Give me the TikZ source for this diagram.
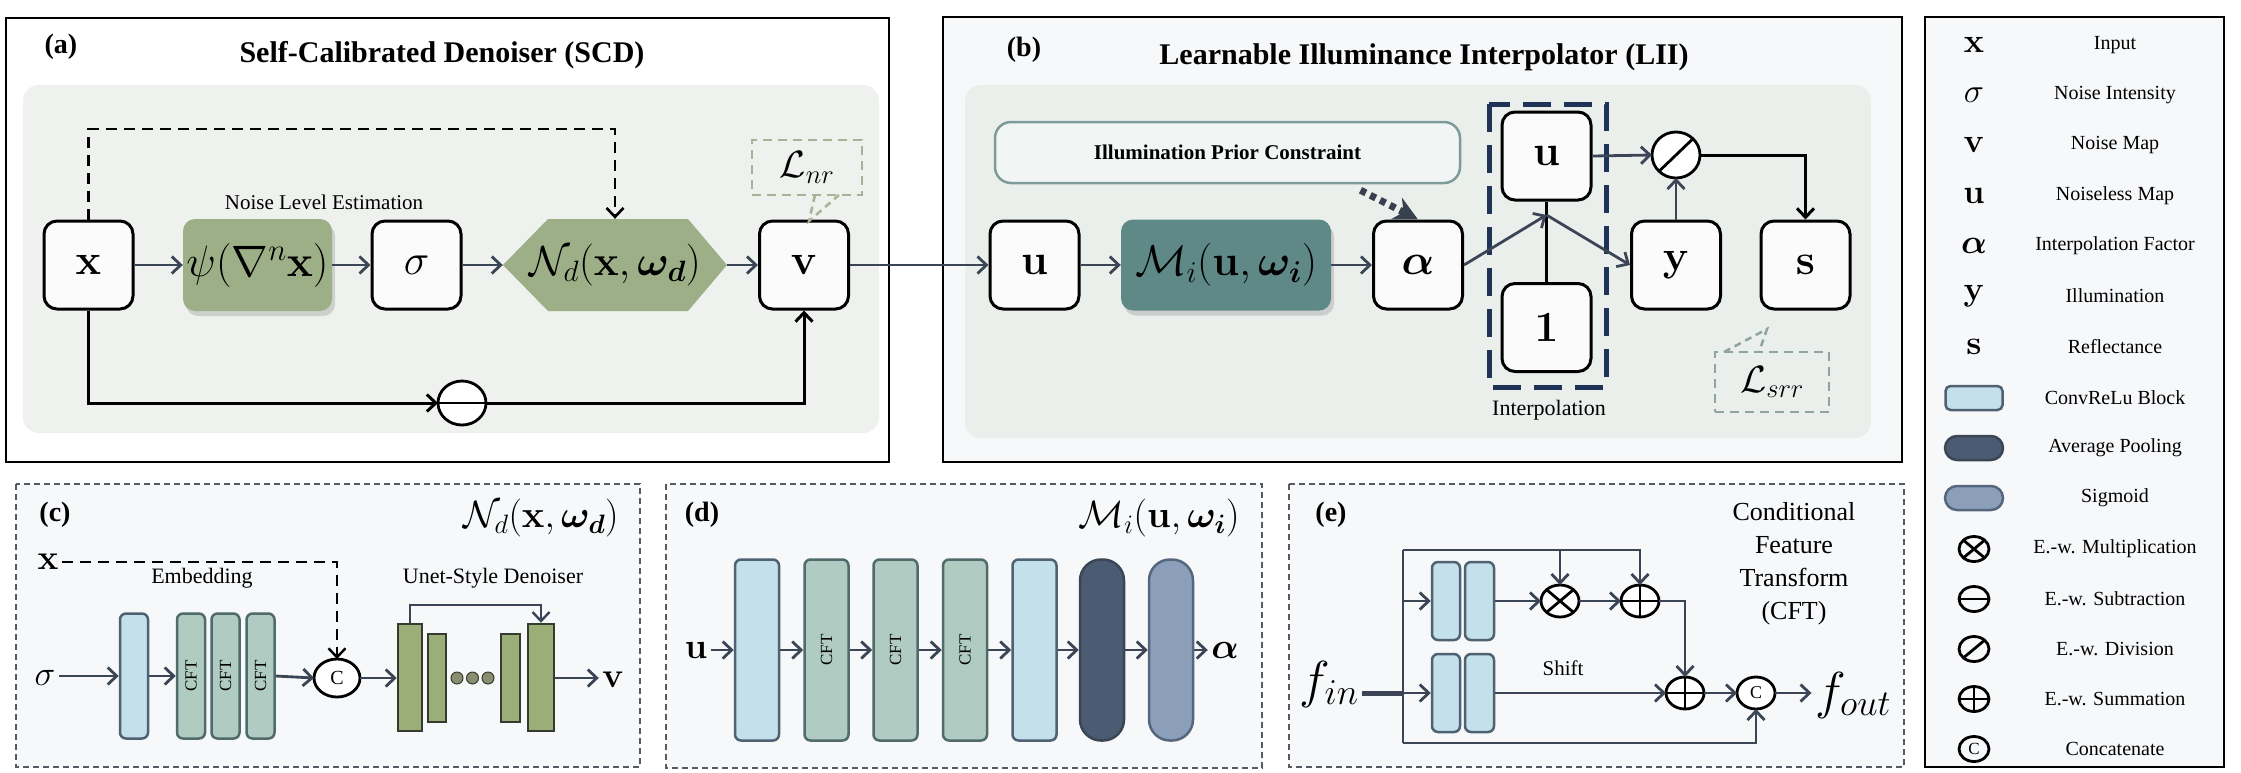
\RequirePackage{fix-cm}
\documentclass[tikz,border=0pt]{standalone}
\usepackage{bm}
\usepackage[no-math]{fontspec}
\setmainfont{Liberation Serif}
\usetikzlibrary{arrows.meta,shadows,calc,shapes.geometric}
\newcommand{\myfs}[2]{\fontsize{#1}{#2}\selectfont}
\definecolor{boxfill}{HTML}{FAFBFA}
\definecolor{arrowc}{HTML}{3B4555}
\definecolor{panelA}{HTML}{EEF1EE}
\definecolor{panelB}{HTML}{EBEFEC}
\definecolor{bfill}{HTML}{F6F8F9}
\definecolor{olivec}{HTML}{9DAF86}
\definecolor{mteal}{HTML}{5F8987}
\definecolor{lnrc}{HTML}{A9B296}
\definecolor{lsrrc}{HTML}{8FA4A2}
\definecolor{ipcc}{HTML}{7D9C99}
\definecolor{ipcfill}{HTML}{F1F5F3}
\definecolor{interpc}{HTML}{1E3356}
\definecolor{dotc}{HTML}{36404F}
\definecolor{botfill}{HTML}{F6F8FA}
\definecolor{dashc}{HTML}{555B63}
\definecolor{lblue}{HTML}{C4E0EA}
\definecolor{lbbord}{HTML}{4F6272}
\definecolor{cftc}{HTML}{AFCBC2}
\definecolor{cftbord}{HTML}{506C6A}
\definecolor{uolive}{HTML}{9BAE78}
\definecolor{ubord}{HTML}{363B30}
\definecolor{dotol}{HTML}{8A8E70}
\definecolor{avgc}{HTML}{4A5B72}
\definecolor{avgbord}{HTML}{3A4656}
\definecolor{sigc}{HTML}{8B9FBA}
\definecolor{sigbord}{HTML}{56677D}
\definecolor{legfill}{HTML}{F7F8FA}
\begin{document}
\begin{tikzpicture}[x=1pt,y=-1pt,
  sqbox/.style={draw=black,line width=3pt,rounded corners=13pt,fill=boxfill,minimum width=89pt,minimum height=88pt,inner sep=0pt,font=\myfs{43}{50}},
  arr/.style={draw=arrowc,line width=2.8pt,-{Straight Barb[length=9pt,width=17pt]}},
  barr/.style={draw=black,line width=3pt,-{Straight Barb[length=9pt,width=17pt]}},
  dline/.style={draw=black,line width=2.6pt,dash pattern=on 11pt off 7pt,-{Straight Barb[length=9pt,width=17pt]}},
  opc/.style={ellipse,draw=black,line width=2.8pt,fill=white,inner sep=0pt,outer sep=0pt},
  opl/.style={draw=black,line width=2.8pt},
  shd/.style={drop shadow={shadow xshift=3pt,shadow yshift=-5pt,opacity=0.2,fill=black!70}},
  lbl/.style={font=\myfs{28}{32}\bfseries},
  cblk/.style={draw=lbbord,fill=lblue,line width=2.5pt,rounded corners=6pt,inner sep=0pt},
  cftblk/.style={draw=cftbord,fill=cftc,line width=2.5pt,rounded corners=6pt,inner sep=0pt},
  ublk/.style={draw=ubord,fill=uolive,line width=2.5pt,inner sep=0pt},
  avgblk/.style={draw=avgbord,fill=avgc,line width=2.5pt,inner sep=0pt},
  sigblk/.style={draw=sigbord,fill=sigc,line width=2.5pt,inner sep=0pt},
  bdash/.style={draw=dashc,line width=2pt,dash pattern=on 6pt off 4pt,fill=botfill},
  legt/.style={font=\myfs{20}{23}},
  legs/.style={font=\myfs{34}{38}},
  cfttxt/.style={rotate=90,font=\myfs{17}{20}}
]
\useasboundingbox (0,0) rectangle (2241,772);
\fill[white] (0,0) rectangle (2241,772);

%% ---------------- Panel (a)
\draw[line width=2.5pt,fill=white] (6,18) rectangle (889,462);
\fill[panelA,rounded corners=16pt] (23,85) rectangle (879,433);
\node[lbl] (la) at (61,47) {(a)};
\node[font=\myfs{30}{36}\bfseries] (ta) at (442,55) {Self-Calibrated Denoiser (SCD)};

\node[sqbox] (xa) at (88.5,265) {$\mathbf{x}$};
\node[fill=olivec,rounded corners=12pt,minimum width=149pt,minimum height=92pt,inner sep=0pt,shd,font=\myfs{44}{50}] (psi) at (257.5,265) {$\psi(\nabla^n\mathbf{x})$};
\node[sqbox] (sig) at (416.5,265) {$\sigma$};
\fill[olivec] (503,265) -- (548,219) -- (688,219) -- (727,265) -- (688,311) -- (548,311) -- cycle;
\node[minimum width=224pt,minimum height=92pt,inner sep=0pt,font=\myfs{42}{50}] (nd) at (615,265) {$\mathcal{N}_d(\mathbf{x},\bm{\omega_d})$};
\node[sqbox] (va) at (804,265) {$\mathbf{v}$};
\node[font=\myfs{21}{25}] (nle) at (324,202) {Noise Level Estimation};

\draw[arr] (xa.east) -- (psi.west);
\draw[arr] (psi.east) -- (sig.west);
\draw[arr] (sig.east) -- (nd.west);
\draw[arr] (nd.east) -- (va.west);

\coordinate (atop) at (0,129);
\draw[dline] (xa.north) -- (xa.north |- atop) -| (nd.north);

\node[opc,minimum width=48pt,minimum height=44pt] (sub) at (462,403) {};
\draw[barr] (xa.south) |- (sub.west);
\draw[barr] (sub.east) -| (va.south);
\draw[opl] (sub.west) -- (sub.east);

\node[draw=lnrc,line width=2.5pt,dash pattern=on 9pt off 6pt,minimum width=110pt,minimum height=55pt,inner sep=0pt,font=\myfs{38}{42}] (lnr) at (807,167.5) {$\mathcal{L}_{nr}$};
\draw[lnrc,line width=2.5pt,dash pattern=on 7pt off 5pt] (815,195) -- (809,221) -- (839,195);

%% ---------------- Panel (b)
\draw[line width=2.5pt,fill=bfill] (943,17) rectangle (1902,462);
\fill[panelB,rounded corners=16pt] (965,85) rectangle (1871,438);
\node[lbl] (lb) at (1024,50) {(b)};
\node[font=\myfs{30}{36}\bfseries] (tb) at (1424,57) {Learnable Illuminance Interpolator (LII)};

\node[draw=ipcc,line width=2.5pt,fill=ipcfill,rounded corners=16pt,minimum width=465pt,minimum height=61pt,font=\myfs{21}{25}\bfseries] (ipc) at (1227.5,152.5) {Illumination Prior Constraint};

\node[sqbox] (ub) at (1034.5,265) {$\mathbf{u}$};
\node[fill=mteal,rounded corners=12pt,minimum width=210pt,minimum height=91pt,inner sep=0pt,shd,font=\myfs{43}{50}] (mi) at (1226,265) {$\mathcal{M}_i(\mathbf{u},\bm{\omega_i})$};
\node[sqbox] (al) at (1418,265) {$\bm{\alpha}$};
\node[sqbox] (ut) at (1546.5,156) {$\mathbf{u}$};
\node[sqbox] (one) at (1546.5,327.5) {$\mathbf{1}$};
\node[sqbox] (yb) at (1676,265) {$\mathbf{y}$};
\node[sqbox] (sb) at (1805.5,265) {$\mathbf{s}$};
\node[opc,minimum width=48pt,minimum height=46pt] (dv) at (1676,155) {};
\draw[opl] (dv.south west) -- (dv.north east);

\draw[interpc,line width=5pt,dash pattern=on 28pt off 13pt] (1489,104) rectangle (1606,387);
\node[font=\myfs{22}{26}] (interp) at (1549,410) {Interpolation};

\draw[arr] (va.east) -- (ub.west);
\draw[arr] (ub.east) -- (mi.west);
\draw[arr] (mi.east) -- (al.west);
\draw[line width=2.8pt] (ut.south) -- (one.north);
\coordinate (jn) at (1546.5,215);
\draw[arr] (al.east) -- (jn);
\draw[arr] (jn) -- (yb.west);
\draw[arr] (ut.east) -- (dv.west);
\draw[arr] (yb.north) -- (dv.south);
\draw[barr] (dv.east) -| (sb.north);

\draw[draw=dotc,line width=7pt,dash pattern=on 6pt off 5pt,-{Stealth[length=24pt,width=24pt]}] ($(ipc.south)+(133,6)$) -- (al.north);

\node[draw=lsrrc,line width=2.5pt,dash pattern=on 9pt off 6pt,minimum width=114pt,minimum height=60pt,inner sep=0pt,font=\myfs{38}{42}] (lsrr) at (1772,382) {$\mathcal{L}_{srr}$};
\draw[lsrrc,line width=2.5pt,dash pattern=on 7pt off 5pt] (1724,352) -- (1767,329) -- (1759,352);

%% ---------------- Panel (c)
\draw[bdash] (16,484) rectangle (640,767);
\node[lbl] (lc) at (55,515) {(c)};
\node[font=\myfs{38}{44}] (ndc) at (541,518) {$\mathcal{N}_d(\mathbf{x},\bm{\omega_d})$};
\node[font=\myfs{35}{40}] (xc) at (48,562) {$\mathbf{x}$};
\node[font=\myfs{22}{26}] (emb) at (202,578) {Embedding};
\node[font=\myfs{22}{26}] (unet) at (493,578) {Unet-Style Denoiser};
\node[font=\myfs{35}{40}] (sigcn) at (45,678) {$\sigma$};
\node[cblk,minimum width=28pt,minimum height=125pt] (c1) at (134,676) {};
\node[cftblk,minimum width=28pt,minimum height=125pt] (c2) at (191,676) {};
\node[cftblk,minimum width=28pt,minimum height=125pt] (c3) at (225.5,676) {};
\node[cftblk,minimum width=28pt,minimum height=125pt] (c4) at (260.5,676) {};
\node[cfttxt] (t2) at (c2) {CFT};
\node[cfttxt] (t3) at (c3) {CFT};
\node[cfttxt] (t4) at (c4) {CFT};
\node[opc,minimum width=46pt,minimum height=38pt,font=\myfs{20}{24}] (cc) at (337,678) {C};
\draw[dline,line width=2.4pt] (xc.east) -| (cc.north);
\node[ublk,minimum width=24pt,minimum height=107pt] (u1) at (410,677.5) {};
\node[ublk,minimum width=18pt,minimum height=88pt] (u2) at (437,678) {};
\node[circle,fill=dotol,draw=ubord,line width=1pt,minimum size=12pt,inner sep=0pt] (dt1) at (457,678) {};
\node[circle,fill=dotol,draw=ubord,line width=1pt,minimum size=12pt,inner sep=0pt] (dt2) at (472.5,678) {};
\node[circle,fill=dotol,draw=ubord,line width=1pt,minimum size=12pt,inner sep=0pt] (dt3) at (488,678) {};
\node[ublk,minimum width=19pt,minimum height=88pt] (u3) at (510.5,678) {};
\node[ublk,minimum width=26pt,minimum height=107pt] (u4) at (541,677.5) {};
\node[font=\myfs{35}{40}] (vc) at (613,680) {$\mathbf{v}$};
\draw[arr] (sigcn.east |- c1.west) -- (c1.west);
\draw[arr] (c1.east) -- (c2.west);
\draw[arr] (c4.east) -- (cc.west);
\draw[arr] (cc.east) -- (u1.west |- cc.east);
\draw[arr] (u4.east |- cc.east) -- (vc.west |- cc.east);
\coordinate (ctop) at (0,605);
\draw[arr,line width=2.4pt] (u1.north) -- (u1.north |- ctop) -| (u4.north);

%% ---------------- Panel (d)
\draw[bdash] (666,484) rectangle (1262,768);
\node[lbl] (ld) at (702,515) {(d)};
\node[font=\myfs{38}{44}] (mid) at (1159,518) {$\mathcal{M}_i(\mathbf{u},\bm{\omega_i})$};
\node[font=\myfs{36}{40}] (ud) at (696,650) {$\mathbf{u}$};
\node[cblk,minimum width=44pt,minimum height=181pt] (d1) at (757,650) {};
\node[cftblk,minimum width=44pt,minimum height=181pt] (d2) at (826.5,650) {};
\node[cftblk,minimum width=44pt,minimum height=181pt] (d3) at (895.5,650) {};
\node[cftblk,minimum width=44pt,minimum height=181pt] (d4) at (965,650) {};
\node[cblk,minimum width=44pt,minimum height=181pt] (d5) at (1034.5,650) {};
\node[avgblk,rounded corners=21pt,minimum width=44pt,minimum height=181pt] (d6) at (1102,650) {};
\node[sigblk,rounded corners=21pt,minimum width=44pt,minimum height=181pt] (d7) at (1171,650) {};
\node[cfttxt] (dt2l) at (d2) {CFT};
\node[cfttxt] (dt3l) at (d3) {CFT};
\node[cfttxt] (dt4l) at (d4) {CFT};
\node[font=\myfs{36}{40}] (ad) at (1225,650) {$\bm{\alpha}$};
\draw[arr] (ud.east) -- (d1.west);
\draw[arr] (d1.east) -- (d2.west);
\draw[arr] (d2.east) -- (d3.west);
\draw[arr] (d3.east) -- (d4.west);
\draw[arr] (d4.east) -- (d5.west);
\draw[arr] (d5.east) -- (d6.west);
\draw[arr] (d6.east) -- (d7.west);
\draw[arr] (d7.east) -- (ad.west);

%% ---------------- Panel (e)
\draw[bdash] (1289,484) rectangle (1904,767);
\node[lbl] (le) at (1331,515) {(e)};
\node[align=center,font=\myfs{26}{33}] (cftl) at (1794,564) {Conditional\\Feature\\Transform\\(CFT)};
\node[font=\myfs{52}{58}] (fin) at (1329,684) {$f_{in}$};
\node[font=\myfs{52}{58}] (fout) at (1853,695) {$f_{out}$};
\node[cblk,minimum width=28pt,minimum height=78pt] (e1a) at (1446,601) {};
\node[cblk,minimum width=29pt,minimum height=78pt] (e1b) at (1479.5,601) {};
\node[cblk,minimum width=28pt,minimum height=78pt] (e2a) at (1446,693) {};
\node[cblk,minimum width=29pt,minimum height=78pt] (e2b) at (1479.5,693) {};
\node[opc,minimum width=38pt,minimum height=32pt] (mul) at (1560,601) {};
\draw[opl] (mul.north east) -- (mul.south west) (mul.north west) -- (mul.south east);
\node[opc,minimum width=38pt,minimum height=32pt] (add1) at (1640,601) {};
\draw[opl] (add1.north) -- (add1.south) (add1.west) -- (add1.east);
\node[opc,minimum width=38pt,minimum height=32pt] (add2) at (1685,693) {};
\draw[opl] (add2.north) -- (add2.south) (add2.west) -- (add2.east);
\node[opc,minimum width=38pt,minimum height=32pt,font=\myfs{18}{22}] (cat) at (1756,693) {C};
\node[font=\myfs{21}{25}] (shift) at (1563,668) {Shift};
\coordinate (evt) at (1403,550);
\coordinate (evm) at (1403,693);
\coordinate (evb) at (1403,743);
\draw[arrowc,line width=5pt] (fin.east |- evm) -- (evm);
\draw[arrowc,line width=2.8pt] (evt) -- (evb);
\draw[arr] (evm) -- (e2a.west);
\draw[arr] (evt |- e1a.west) -- (e1a.west);
\draw[arr] (evt) -- (add1.north |- evt) -- (add1.north);
\draw[arr] (mul.north |- evt) -- (mul.north);
\draw[arr] (e1b.east) -- (mul.west);
\draw[arr] (mul.east) -- (add1.west);
\draw[arr] (add1.east) -| (add2.north);
\draw[arr] (e2b.east) -- (add2.west);
\draw[arr] (add2.east) -- (cat.west);
\draw[arr] (cat.east) -- (fout.west |- cat.east);
\draw[arr] (evb) -| (cat.south);

%% ---------------- Legend
\draw[line width=2.5pt,fill=legfill] (1925,17) rectangle (2224,767);
\node[legs] (s1) at (1974,45) {$\mathbf{x}$};
\node[legt] (l1) at (2115,45) {Input};
\node[legs] (s2) at (1974,95) {$\sigma$};
\node[legt] (l2) at (2115,95) {Noise Intensity};
\node[legs] (s3) at (1974,145) {$\mathbf{v}$};
\node[legt] (l3) at (2115,145) {Noise Map};
\node[legs] (s4) at (1974,196) {$\mathbf{u}$};
\node[legt] (l4) at (2115,196) {Noiseless Map};
\node[legs] (s5) at (1974,246) {$\bm{\alpha}$};
\node[legt] (l5) at (2115,246) {Interpolation Factor};
\node[legs] (s6) at (1974,296) {$\mathbf{y}$};
\node[legt] (l6) at (2115,296) {Illumination};
\node[legs] (s7) at (1974,347) {$\mathbf{s}$};
\node[legt] (l7) at (2115,347) {Reflectance};
\node[cblk,rounded corners=5pt,minimum width=57pt,minimum height=24pt] (s8) at (1974,398) {};
\node[legt] (l8) at (2115,398) {ConvReLu Block};
\node[avgblk,rounded corners=12pt,minimum width=58pt,minimum height=24pt] (s9) at (1974,448) {};
\node[legt] (l9) at (2115,448) {Average Pooling};
\node[sigblk,rounded corners=12pt,minimum width=58pt,minimum height=24pt] (s10) at (1974,498) {};
\node[legt] (l10) at (2115,498) {Sigmoid};
\node[opc,fill=none,minimum width=30pt,minimum height=25pt] (s11) at (1974,549) {};
\draw[opl] (s11.north east) -- (s11.south west) (s11.north west) -- (s11.south east);
\node[legt] (l11) at (2115,549) {E.-w. Multiplication};
\node[opc,fill=none,minimum width=30pt,minimum height=25pt] (s12) at (1974,599) {};
\draw[opl] (s12.west) -- (s12.east);
\node[legt] (l12) at (2115,599) {E.-w. Subtraction};
\node[opc,fill=none,minimum width=30pt,minimum height=25pt] (s13) at (1974,649) {};
\draw[opl] (s13.south west) -- (s13.north east);
\node[legt] (l13) at (2115,649) {E.-w. Division};
\node[opc,fill=none,minimum width=30pt,minimum height=25pt] (s14) at (1974,699) {};
\draw[opl] (s14.north) -- (s14.south) (s14.west) -- (s14.east);
\node[legt] (l14) at (2115,699) {E.-w. Summation};
\node[opc,fill=none,minimum width=30pt,minimum height=25pt,font=\myfs{17}{19}] (s15) at (1974,749) {C};
\node[legt] (l15) at (2115,749) {Concatenate};
\end{tikzpicture}
\end{document}
